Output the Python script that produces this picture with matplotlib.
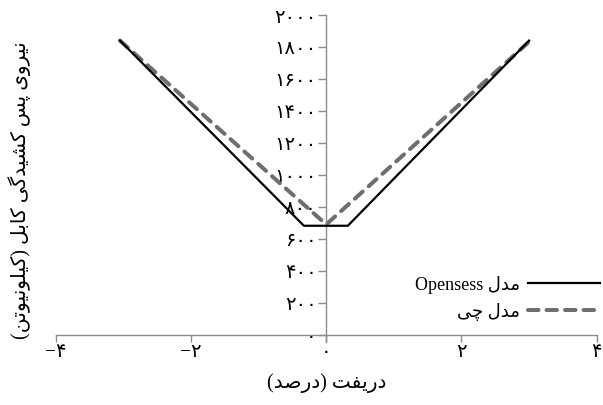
import matplotlib
matplotlib.use("Agg")
import matplotlib.pyplot as plt

# drift (%) vs cable post-tension force (kN)
opensees_drift = [-3.05, -0.33, 0.32, 3.00]
opensees_force = [1840, 682, 682, 1840]

chi_drift = [-3.05, 0.0, 3.02]
chi_force = [1840, 690, 1840]

x_ticks = [-4, -2, 0, 2, 4]
y_ticks = [0, 200, 400, 600, 800, 1000, 1200, 1400, 1600, 1800, 2000]

x_label = 'دریفت (درصد)'
y_label = 'نیروی پس کشیدگی کابل (کیلونیوتن)'
label_opensees = ('مدل', 'Opensess')
label_chi = 'مدل چی'

# contextual forms: isolated, final, initial, medial
FORMS = {
    'ا': ('\uFE8D', '\uFE8E'),
    'ب': ('\uFE8F', '\uFE90', '\uFE91', '\uFE92'),
    'پ': ('\uFB56', '\uFB57', '\uFB58', '\uFB59'),
    'ت': ('\uFE95', '\uFE96', '\uFE97', '\uFE98'),
    'چ': ('\uFB7A', '\uFB7B', '\uFB7C', '\uFB7D'),
    'د': ('\uFEA9', '\uFEAA'),
    'ر': ('\uFEAD', '\uFEAE'),
    'س': ('\uFEB1', '\uFEB2', '\uFEB3', '\uFEB4'),
    'ش': ('\uFEB5', '\uFEB6', '\uFEB7', '\uFEB8'),
    'ص': ('\uFEB9', '\uFEBA', '\uFEBB', '\uFEBC'),
    'ف': ('\uFED1', '\uFED2', '\uFED3', '\uFED4'),
    'ک': ('\uFB8E', '\uFB8F', '\uFB90', '\uFB91'),
    'گ': ('\uFB92', '\uFB93', '\uFB94', '\uFB95'),
    'ل': ('\uFEDD', '\uFEDE', '\uFEDF', '\uFEE0'),
    'م': ('\uFEE1', '\uFEE2', '\uFEE3', '\uFEE4'),
    'ن': ('\uFEE5', '\uFEE6', '\uFEE7', '\uFEE8'),
    'و': ('\uFEED', '\uFEEE'),
    'ی': ('\uFBFC', '\uFBFD', '\uFBFE', '\uFBFF'),
}


def fa(text):
    # join persian letters and lay them out right to left
    out = []
    for i, ch in enumerate(text):
        forms = FORMS.get(ch)
        if forms is None:
            out.append({'(': ')', ')': '('}.get(ch, ch))
            continue
        prev = text[i - 1] if i > 0 else ''
        nxt = text[i + 1] if i + 1 < len(text) else ''
        joins_prev = prev in FORMS and len(FORMS[prev]) == 4
        joins_next = len(forms) == 4 and nxt in FORMS
        out.append(forms[(1 if joins_prev else 0) + (2 if joins_next else 0)])
    return ''.join(reversed(out))


def fa_num(v):
    return str(int(v)).translate(str.maketrans('0123456789-', '۰۱۲۳۴۵۶۷۸۹−'))


plt.rcParams['font.family'] = ['Liberation Serif', 'DejaVu Sans']

fig = plt.figure(figsize=(6.03, 4.06), dpi=100)
ax = fig.add_axes([55.7 / 603, 63 / 406, 541 / 603, 327 / 406])

ax.plot(opensees_drift, opensees_force, color='black', lw=1.6,
        label=label_opensees[1] + ' ' + fa(label_opensees[0]), zorder=3)
ax.plot(chi_drift, chi_force, color='#6e6e6e', lw=2.9, linestyle=(0, (2.6, 2.0)),
        dash_capstyle='round', label=fa(label_chi), zorder=2)

ax.set_xlim(-4, 4)
ax.set_ylim(-45, 2000)

axis_gray = '#8c8c8c'
for side in ['top', 'right']:
    ax.spines[side].set_visible(False)
ax.spines['left'].set_position(('data', 0))
ax.spines['bottom'].set_position(('data', 0))
for side in ['left', 'bottom']:
    ax.spines[side].set_color(axis_gray)
    ax.spines[side].set_linewidth(1.0)

ax.set_xticks(x_ticks)
ax.set_xticklabels([fa_num(v) for v in x_ticks])
ax.set_yticks(y_ticks)
ax.set_yticklabels([fa_num(v) for v in y_ticks])
ax.tick_params(axis='both', direction='out', color=axis_gray, width=1.0, labelsize=14)
ax.tick_params(axis='y', length=6, pad=1)
ax.tick_params(axis='x', length=5, pad=1)

fig.text(327 / 603, 1 - 383 / 406, fa(x_label), ha='center', va='center', fontsize=14.5)
fig.text(20 / 603, 1 - 190 / 406, fa(y_label), ha='center', va='center',
         rotation=90, fontsize=14.5)

ax.legend(loc='center right', bbox_to_anchor=(600 / 603, 1 - 298.5 / 406),
          bbox_transform=fig.transFigure, frameon=False, markerfirst=False,
          handlelength=4.0, handletextpad=0.45, labelspacing=0.5,
          borderpad=0, borderaxespad=0, fontsize=13)

plt.savefig('out.png', dpi=100)
